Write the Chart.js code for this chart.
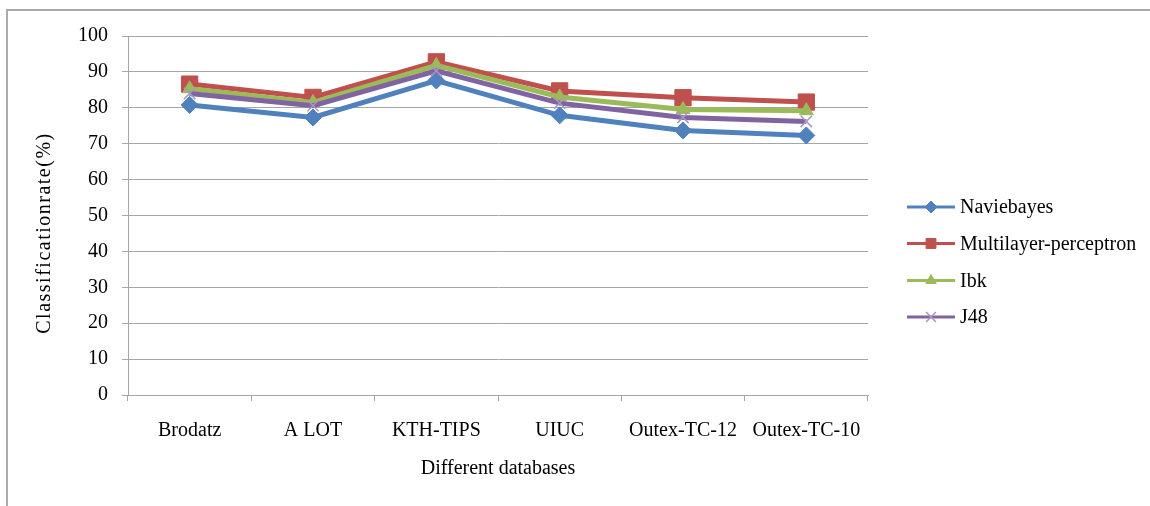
<!DOCTYPE html>
<html>
<head>
<meta charset="utf-8">
<script src="https://cdn.jsdelivr.net/npm/chart.js@4/dist/chart.umd.min.js"></script>
<style>
  body { margin: 0; background: #fff; }
  #wrap { width: 1150px; height: 506px; position: relative; }
</style>
</head>
<body>
<div id="wrap"><canvas id="lineChart" width="1150" height="506"></canvas></div>
<script>
// Classification rate per database and classifier

const databases = ['Brodatz', 'A LOT', 'KTH-TIPS', 'UIUC', 'Outex-TC-12', 'Outex-TC-10'];

const naviebayes = [80.8, 77.3, 87.6, 77.9, 73.7, 72.3];
const multilayer = [86.6, 82.9, 92.8, 84.7, 82.8, 81.6];
const ibk = [85.3, 81.5, 91.8, 83.0, 79.5, 79.2];
const j48 = [84.0, 80.6, 90.3, 81.3, 77.3, 76.2];

const yTicks = { min: 0, max: 100, step: 10 };
const yTitle = 'Classificationrate(%)';

const serif = '"Liberation Serif", "Times New Roman", serif';
const gridColor = '#a6a6a6';

// frame, y title and legend drawn by hand, Excel style
const frameAndLegend = {
    id: 'frameAndLegend',
    beforeDraw(chart) {
        const ctx = chart.ctx;
        ctx.save();
        ctx.strokeStyle = '#aaaaaa';
        ctx.lineWidth = 2;
        ctx.beginPath();
        ctx.moveTo(7, 506);
        ctx.lineTo(7, 10);
        ctx.lineTo(1150, 10);
        ctx.stroke();
        ctx.restore();
    },
    afterDraw(chart) {
        const ctx = chart.ctx;

        // y axis title, a bit spread out like the original
        ctx.save();
        ctx.translate(45, 233);
        ctx.rotate(-Math.PI / 2);
        ctx.font = '20px ' + serif;
        ctx.letterSpacing = '1.5px';
        ctx.fillStyle = '#000';
        ctx.textAlign = 'center';
        ctx.textBaseline = 'middle';
        ctx.fillText(yTitle, 0, 0);
        ctx.restore();

        const rowY = [207, 243.5, 280.5, 317];
        ctx.save();
        chart.data.datasets.forEach(function(ds, i) {
            const y = rowY[i];
            ctx.strokeStyle = ds.borderColor;
            ctx.lineWidth = 3;
            ctx.beginPath();
            ctx.moveTo(907, y);
            ctx.lineTo(955, y);
            ctx.stroke();
            ctx.fillStyle = ds.borderColor;
            ctx.strokeStyle = ds.pointBorderColor || ds.borderColor;
            ctx.lineWidth = ds.pointBorderWidth || 1;
            Chart.helpers.drawPoint(ctx, {
                pointStyle: ds.pointStyle,
                radius: ds.legendRadius,
                rotation: 0,
                borderWidth: ds.pointBorderWidth || 1
            }, 931, y);
            ctx.fillStyle = '#000';
            ctx.font = '20px ' + serif;
            ctx.textAlign = 'left';
            ctx.textBaseline = 'middle';
            ctx.fillText(ds.label, 960, y + 1);
        });
        ctx.restore();
    }
};

const ctx = document.getElementById('lineChart').getContext('2d');

new Chart(ctx, {
    type: 'line',
    data: {
        labels: databases,
        datasets: [
            {
                label: 'Naviebayes',
                data: naviebayes,
                borderColor: '#4f81bd',
                backgroundColor: '#4f81bd',
                pointStyle: 'rectRot',
                pointRadius: 8.5,
                legendRadius: 6,
                order: 4
            },
            {
                label: 'Multilayer-perceptron',
                data: multilayer,
                borderColor: '#c0504d',
                backgroundColor: '#c0504d',
                pointStyle: 'rect',
                pointRadius: 11.5,
                legendRadius: 7,
                order: 3
            },
            {
                label: 'Ibk',
                data: ibk,
                borderColor: '#9bbb59',
                backgroundColor: '#9bbb59',
                pointStyle: 'triangle',
                pointRadius: 8,
                legendRadius: 6,
                order: 2
            },
            {
                label: 'J48',
                data: j48,
                borderColor: '#8064a2',
                backgroundColor: '#8064a2',
                pointStyle: 'crossRot',
                pointRadius: 8,
                pointBorderColor: '#a996c4',
                pointBorderWidth: 1.5,
                legendRadius: 7,
                order: 1
            }
        ]
    },
    options: {
        responsive: false,
        animation: false,
        layout: {
            padding: { left: 8, top: 36, right: 282, bottom: 0 }
        },
        elements: {
            line: { borderWidth: 5, tension: 0 },
            point: { borderWidth: 1 }
        },
        plugins: {
            legend: { display: false },
            tooltip: { enabled: false }
        },
        scales: {
            x: {
                offset: true,
                grid: {
                    offset: true,
                    drawOnChartArea: false,
                    drawTicks: true,
                    tickLength: 6,
                    color: gridColor
                },
                border: { color: gridColor, width: 1 },
                ticks: {
                    color: '#000',
                    padding: 18,
                    maxRotation: 0,
                    font: { family: serif, size: 20 }
                },
                title: {
                    display: true,
                    text: 'Different databases',
                    color: '#000',
                    padding: { top: 0, bottom: 25 },
                    font: { family: serif, size: 20 }
                },
                afterFit: function(scale) { scale.height = 111; }
            },
            y: {
                min: yTicks.min,
                max: yTicks.max,
                grid: {
                    color: gridColor,
                    tickLength: 6
                },
                border: { color: gridColor, width: 1 },
                ticks: {
                    stepSize: yTicks.step,
                    color: '#000',
                    padding: 14,
                    font: { family: serif, size: 20 }
                },
                afterFit: function(scale) { scale.width = 120; }
            }
        }
    },
    plugins: [frameAndLegend]
});
</script>
</body>
</html>
